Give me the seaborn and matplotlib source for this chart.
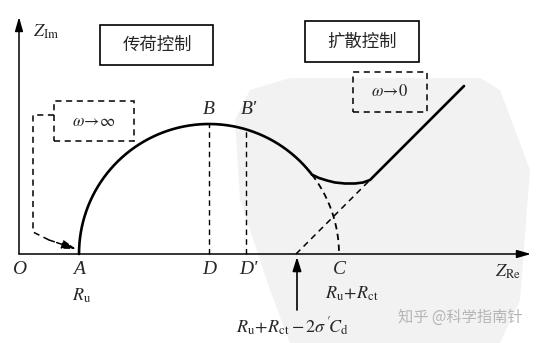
import numpy as np
import pandas as pd
import matplotlib
matplotlib.use("Agg")
import matplotlib.pyplot as plt
from matplotlib.patches import Rectangle, Polygon
import seaborn as sns

# ---- data (schematic units, origin at O) ----
R_u = 60.0            # point A
R_ct = 260.0          # A -> C  (C at R_u + R_ct)
D_prime = 227.0       # D'
warburg_x0 = 277.0    # R_u + R_ct - 2σ'C_d  (intercept of 45° line)
depart_x = 293.0      # where curve leaves the semicircle
# transition (diffusion) region points
trans_x = [293, 300, 308, 316, 326, 336, 344, 351]
trans_y = [79, 76, 73.5, 71.5, 70.5, 70.5, 71.5, 74]
line_end = (445, 168)

labels_x = ["O", "A", "D", "D'", "C"]
cats = ["传荷控制", "扩散控制"]

sns.set_theme(style="white")
plt.rcParams["mathtext.fontset"] = "stix"
plt.rcParams["font.family"] = ["Noto Sans CJK SC", "DejaVu Sans"]

fig = plt.figure(figsize=(5.43, 3.43), dpi=100)
ax = fig.add_axes([0, 0, 1, 1])
ax.set_xlim(-19, 524)
ax.set_ylim(-89, 254)
ax.axis("off")

# faint background watermark shape
ax.add_patch(Polygon([(216, 134), (231, 164), (271, 176), (461, 176), (481, 164),
                      (511, 84), (501, -46), (481, -89), (271, -89), (251, -36), (221, 54)],
                     closed=True, facecolor="#f2f2f2", edgecolor="none", zorder=0))

center = R_u + R_ct / 2
r = R_ct / 2
th_dep = np.degrees(np.arccos((depart_x - center) / r))

# solid arc A -> departure
th = np.radians(np.linspace(180, th_dep, 120))
arc_x = center + r * np.cos(th)
arc_y = r * np.sin(th)
curve = pd.DataFrame({
    "x": np.concatenate([arc_x, trans_x[1:], [line_end[0]]]),
    "y": np.concatenate([arc_y, trans_y[1:], [line_end[1]]]),
})
sns.lineplot(data=curve, x="x", y="y", sort=False, color="black", lw=1.9, ax=ax,
             estimator=None, zorder=3)

# dashed remainder of semicircle
th2 = np.radians(np.linspace(th_dep, 0, 40))
ax.plot(center + r * np.cos(th2), r * np.sin(th2), color="black", lw=1.3,
        ls=(0, (3.5, 2.5)), zorder=2)
# dashed 45° extension
ax.plot([warburg_x0, trans_x[-1]], [0, trans_y[-1]], color="black", lw=1.1,
        ls=(0, (4, 3)), zorder=2)
# dashed verticals at B and B'
ax.plot([center, center], [0, r], color="black", lw=1.0, ls=(0, (4, 3)))
hb = np.sqrt(r**2 - (D_prime - center) ** 2)
ax.plot([D_prime, D_prime], [0, hb], color="black", lw=1.0, ls=(0, (4, 3)))

# axes arrows
arw = dict(arrowstyle="-|>,head_length=0.7,head_width=0.2", color="black", lw=1.1,
           shrinkA=0, shrinkB=0)
ax.annotate("", xy=(512, 0), xytext=(0, 0), arrowprops=arw)
ax.annotate("", xy=(0, 237), xytext=(0, 0), arrowprops=arw)
# arrow to intercept
ax.annotate("", xy=(warburg_x0 + 1, -3), xytext=(warburg_x0 + 1, -56),
            arrowprops=dict(arrowstyle="-|>,head_length=0.7,head_width=0.22",
                            color="black", lw=1.2, shrinkA=0, shrinkB=0))

# omega boxes
dash = (0, (4, 3))
ax.add_patch(Rectangle((35, 113), 80, 40, fill=False, ec="black", lw=1.1, ls=dash))
ax.add_patch(Rectangle((334, 142), 74, 40, fill=False, ec="black", lw=1.1, ls=dash))
ax.plot([35, 14, 14, 30], [139, 139, 22, 14], color="black", lw=1.1, ls=dash)
ax.annotate("", xy=(57, 5), xytext=(30, 14),
            arrowprops=dict(arrowstyle="-|>,head_length=0.7,head_width=0.22",
                            color="black", lw=1.1, ls="--", shrinkA=0, shrinkB=0))
ax.text(75, 133, r"$\omega\!\rightarrow\!\infty$", ha="center", va="center", fontsize=12)
ax.text(371, 162, r"$\omega\!\rightarrow\!0$", ha="center", va="center", fontsize=12)

# category boxes
ax.add_patch(Rectangle((81, 189), 113, 40, fill=False, ec="black", lw=1.2))
ax.add_patch(Rectangle((286, 192), 114, 41, fill=False, ec="black", lw=1.2))
ax.text(138, 209, cats[0], ha="center", va="center", fontsize=12.5)
ax.text(343, 212, cats[1], ha="center", va="center", fontsize=12.5)

# point labels (Times-like italic)
serif = dict(family="Liberation Serif", fontstyle="italic", fontsize=14,
             ha="center", va="center")
lab_pos = [0, R_u, center, D_prime + 2, R_u + R_ct]
for lab, xp in zip(labels_x, lab_pos):
    ax.text(xp, -16, lab, **serif)
ax.text(center, 144, "B", **serif)
ax.text(D_prime + 3, 144, "B'", **serif)

ax.text(14, 222, r"$Z_{\rm Im}$", ha="left", va="center", fontsize=13)
ax.text(489, -18, r"$Z_{\rm Re}$", ha="center", va="center", fontsize=13)
ax.text(63, -42, r"$R_{\rm u}$", ha="center", va="center", fontsize=13)
ax.text(333, -40, r"$R_{\rm u}\!+\!R_{\rm ct}$", ha="center", va="center", fontsize=13)
ax.text(273, -73, r"$R_{\rm u}\!+\!R_{\rm ct}-2\sigma\,'\!C_{\rm d}$", ha="center",
        va="center", fontsize=13)

# watermark text
ax.text(441, -63, "知乎 @科学指南针", ha="center", va="center", fontsize=11,
        color="#b5b5b5")

fig.savefig("out.png", dpi=100)
